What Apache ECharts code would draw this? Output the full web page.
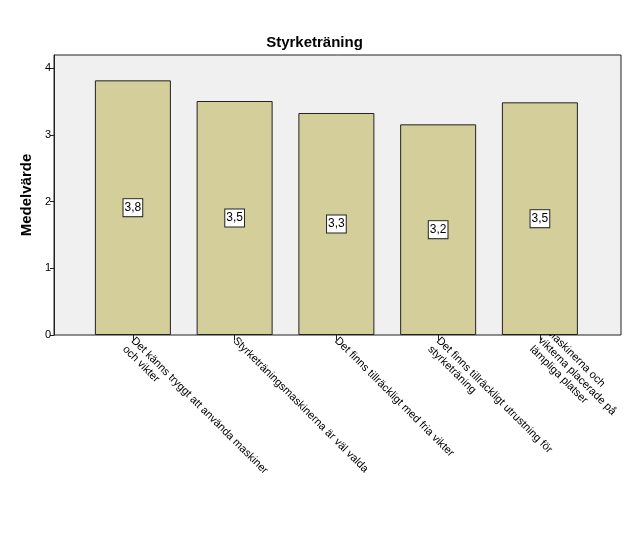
<!DOCTYPE html>
<html>
<head>
<meta charset="utf-8">
<script src="https://cdn.jsdelivr.net/npm/echarts@6/dist/echarts.min.js"></script>
<style>
html,body{margin:0;padding:0;background:#fff;}
#c{width:629px;height:544px;}
</style>
</head>
<body>
<div id="c"></div>
<script>
const titleText = 'Styrketräning';
const yAxisName = 'Medelvärde';
const categories = [
  'Det känns tryggt att använda maskiner\noch vikter',
  'Styrketräningsmaskinerna är väl valda',
  'Det finns tillräckligt med fria vikter',
  'Det finns tillräckligt utrustning för\nstyrketräning',
  'Maskinerna och\nvikterna placerade på\nlämpliga platser'
];
const values = [3.82, 3.51, 3.33, 3.16, 3.49];
const yTicks = [0, 1, 2, 3, 4];

const FONT = 'Liberation Sans, Arial, sans-serif';
const chart = echarts.init(document.getElementById('c'));
chart.setOption({
  animation: false,
  backgroundColor: '#ffffff',
  title: {
    text: titleText, left: 'center', top: 30,
    textStyle: {fontFamily: FONT, fontSize: 15, fontWeight: 'bold', color: '#000'}
  },
  grid: [
    {left: 54, right: 8, top: 55, bottom: 209, show: true, backgroundColor: '#F0F0F0', borderColor: '#222', borderWidth: 1},
    {left: 82, right: 37, top: 55, bottom: 209}
  ],
  xAxis: [
    {type: 'value', gridIndex: 0, show: false, min: 0, max: 1},
    {
      type: 'category', gridIndex: 1, data: categories,
      axisLine: {show: false},
      axisTick: {show: true, alignWithLabel: true, length: 5, lineStyle: {color: '#222'}},
      axisLabel: {
        rotate: -45, interval: 0, margin: 4, color: '#000',
        fontFamily: FONT, fontSize: 11, lineHeight: 12,
        formatter: function (v) { return v.split('\n').length === 2 ? '\n' + v : v; }
      }
    }
  ],
  yAxis: [
    {
      type: 'value', gridIndex: 0, min: 0, max: 4.2, interval: 1,
      name: yAxisName, nameLocation: 'middle', nameGap: 19,
      nameTextStyle: {fontFamily: FONT, fontSize: 15, fontWeight: 'bold', color: '#000'},
      axisLine: {show: true, lineStyle: {color: '#222'}},
      axisTick: {show: true, length: 4, lineStyle: {color: '#222'}, customValues: yTicks},
      axisLabel: {color: '#000', fontFamily: FONT, fontSize: 11, margin: 3, customValues: yTicks},
      splitLine: {show: false}
    },
    {type: 'value', gridIndex: 1, min: 0, max: 4.2, show: false, splitLine: {show: false}}
  ],
  series: [{
    type: 'bar', xAxisIndex: 1, yAxisIndex: 1, data: values, barWidth: 76,
    itemStyle: {color: '#D3CE9A', borderColor: '#222', borderWidth: 1},
    label: {
      show: true, position: 'inside',
      formatter: function (p) { return p.value.toFixed(1).replace('.', ','); },
      color: '#000', fontFamily: FONT, fontSize: 12,
      backgroundColor: '#fff', borderColor: '#222', borderWidth: 1, padding: [3, 1, 2, 1]
    }
  }]
});
</script>
</body>
</html>
